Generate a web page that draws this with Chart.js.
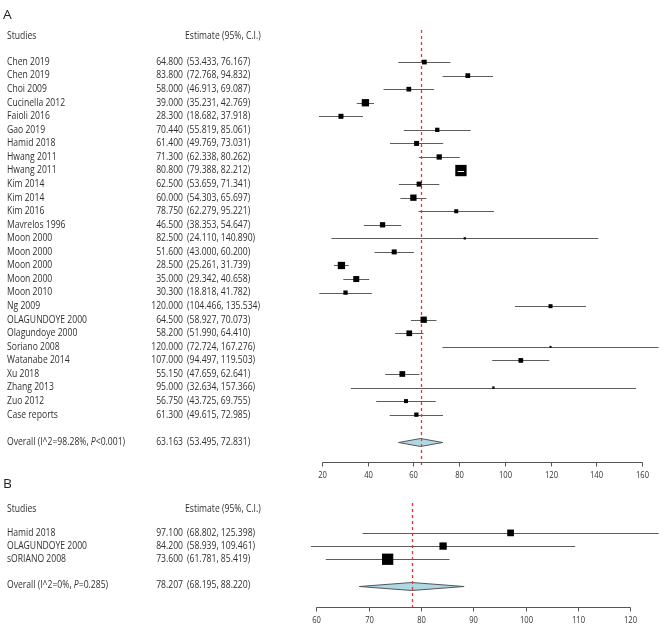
<!DOCTYPE html>
<html><head><meta charset="utf-8">
<script src="https://cdn.jsdelivr.net/npm/chart.js@4"></script>
<style>
html,body{margin:0;padding:0;background:#fff;}
#wrap{position:relative;width:667px;height:630px;overflow:hidden;background:#fff;}
canvas{position:absolute;left:0;}
#cA{top:0;} #cB{top:470px;}
</style></head><body>
<div id="wrap"><canvas id="cA" width="667" height="490"></canvas><canvas id="cB" width="667" height="160"></canvas></div>
<script>
// ---------- Panel A data ----------
const studiesA = ["Chen 2019","Chen 2019","Choi 2009","Cucinella 2012","Faioli 2016","Gao 2019","Hamid 2018","Hwang 2011","Hwang 2011","Kim 2014","Kim 2014","Kim 2016","Mavrelos 1996","Moon 2000","Moon 2000","Moon 2000","Moon 2000","Moon 2010","Ng 2009","OLAGUNDOYE 2000","Olagundoye 2000","Soriano 2008","Watanabe 2014","Xu 2018","Zhang 2013","Zuo 2012","Case reports"];
const estA  = [64.8,83.8,58.0,39.0,28.3,70.44,61.4,71.3,80.8,62.5,60.0,78.75,46.5,82.5,51.6,28.5,35.0,30.3,120.0,64.5,58.2,120.0,107.0,55.15,95.0,56.75,61.3];
const lowA  = [53.433,72.768,46.913,35.231,18.682,55.819,49.769,62.338,79.388,53.659,54.303,62.279,38.353,24.110,43.000,25.261,29.342,18.818,104.466,58.927,51.990,72.724,94.497,47.659,32.634,43.725,49.615];
const highA = [76.167,94.832,69.087,42.769,37.918,85.061,73.031,80.262,82.212,71.341,65.697,95.221,54.647,140.890,60.200,31.739,40.658,41.782,135.534,70.073,64.410,167.276,119.503,62.641,157.366,69.755,72.985];
const weightA = [2.84,2.84,2.84,6.86,3.22,2.38,3.22,3.61,16.43,3.22,5.11,2.06,3.61,0.68,3.22,6.86,4.63,2.38,2.06,5.11,4.18,0.51,2.84,4.18,0.68,2.06,2.38];
const overallA = [63.163,53.495,72.831];
const overallLabelA = ["Overall (I^2=98.28%, ","P","<0.001)"];
const ticksA = [20,40,60,80,100,120,140,160];

// ---------- Panel B data ----------
const studiesB = ["Hamid 2018","OLAGUNDOYE 2000","sORIANO 2008"];
const estB  = [97.1,84.2,73.6];
const lowB  = [68.802,58.939,61.781];
const highB = [125.398,109.461,85.419];
const weightB = [19.9,23.6,56.5];
const overallB = [78.207,68.195,88.220];
const overallLabelB = ["Overall (I^2=0%, ","P","=0.285)"];
const ticksB = [60,70,80,90,100,110,120];

const headerStudies = "Studies";
const headerEstimate = "Estimate (95%, C.I.)";

const FONT = '"Open Sans", "DejaVu Sans", sans-serif';
const TXT = '#303030';
const FS = '10px ';
const SQ = 0.86; // horizontal squeeze of text

function txt(ctx, s, x, y, align, sx) {
  ctx.save();
  ctx.translate(x, y);
  ctx.scale(sx || SQ, 1);
  ctx.textAlign = align;
  ctx.fillText(s, 0, 0);
  ctx.restore();
}

function forestChart(id, P) {
  const plugin = {
    id: 'forest_' + id,
    beforeDatasetsDraw(chart) {
      const {ctx, chartArea: a, scales: {x, y}} = chart;
      ctx.save();
      ctx.beginPath(); ctx.rect(a.left, a.top, a.right - a.left, a.bottom - a.top); ctx.clip();
      ctx.strokeStyle = '#5c5c5c'; ctx.lineWidth = 1;
      P.est.forEach((e, i) => {
        const yy = Math.round(y.getPixelForValue(i)) + 0.5;
        ctx.beginPath();
        ctx.moveTo(x.getPixelForValue(P.low[i]), yy);
        ctx.lineTo(x.getPixelForValue(P.high[i]), yy);
        ctx.stroke();
      });
      // summary diamond
      const yo = Math.round(y.getPixelForValue(P.overallRow)) + 0.5;
      const xl = x.getPixelForValue(P.overall[1]), xc = x.getPixelForValue(P.overall[0]), xh = x.getPixelForValue(P.overall[2]);
      ctx.beginPath();
      ctx.moveTo(xl, yo); ctx.lineTo(xc, yo - 4); ctx.lineTo(xh, yo); ctx.lineTo(xc, yo + 4); ctx.closePath();
      ctx.fillStyle = '#add8e6'; ctx.fill();
      ctx.strokeStyle = '#555'; ctx.stroke();
      ctx.restore();
      // reference dashed line
      ctx.save();
      ctx.strokeStyle = '#ff2a2a'; ctx.lineWidth = 1.3; ctx.setLineDash([3, 3]);
      const xr = Math.round(xc) + 0.5;
      ctx.beginPath();
      ctx.moveTo(xr, Math.round(y.getPixelForValue(P.refTop)));
      ctx.lineTo(xr, a.bottom + 3);
      ctx.stroke();
      ctx.restore();
    },
    afterDatasetsDraw(chart) {
      const {ctx, scales: {x, y}} = chart;
      ctx.save();
      ctx.strokeStyle = '#fff'; ctx.lineWidth = 1;
      P.est.forEach((e, i) => {
        const side = P.boxScale * Math.sqrt(P.weight[i]);
        const x1 = x.getPixelForValue(P.low[i]), x2 = x.getPixelForValue(P.high[i]);
        if (x2 - x1 < side - 2) {
          const yy = Math.round(y.getPixelForValue(i)) + 0.5;
          ctx.beginPath(); ctx.moveTo(x1, yy); ctx.lineTo(x2, yy); ctx.stroke();
        }
      });
      ctx.restore();
    },
    afterDraw(chart) {
      const {ctx, chartArea: a, scales: {x, y}} = chart;
      ctx.save();
      ctx.textBaseline = 'middle';
      // panel letter
      ctx.fillStyle = '#222';
      ctx.font = '12px ' + FONT;
      txt(ctx, P.letter, 3, y.getPixelForValue(P.letterRow), 'left', 1.15);
      ctx.fillStyle = TXT;
      ctx.font = FS + FONT;
      const hy = y.getPixelForValue(P.headerRow);
      txt(ctx, headerStudies, 7, hy, 'left');
      txt(ctx, headerEstimate, 185, hy, 'left');
      const row = (i, label, est, lo, hi) => {
        const yy = y.getPixelForValue(i);
        if (Array.isArray(label)) {
          let cx = 7;
          label.forEach((s, k) => {
            ctx.font = (k === 1 ? 'italic ' : '') + FS + FONT;
            txt(ctx, s, cx, yy, 'left');
            cx += ctx.measureText(s).width * SQ;
          });
          ctx.font = FS + FONT;
        } else {
          txt(ctx, label, 7, yy, 'left');
        }
        txt(ctx, est.toFixed(3), 183, yy, 'right');
        txt(ctx, '(' + lo.toFixed(3) + ', ' + hi.toFixed(3) + ')', 187, yy, 'left');
      };
      P.studies.forEach((s, i) => row(i, s, P.est[i], P.low[i], P.high[i]));
      row(P.overallRow, P.overallLabel, P.overall[0], P.overall[1], P.overall[2]);
      // x axis
      const ay = a.bottom + 0.5;
      ctx.strokeStyle = '#555'; ctx.lineWidth = 1;
      ctx.beginPath();
      ctx.moveTo(Math.round(x.getPixelForValue(P.ticks[0])) + 0.5, ay);
      ctx.lineTo(Math.round(x.getPixelForValue(P.ticks[P.ticks.length - 1])) + 0.5, ay);
      ctx.stroke();
      ctx.font = '9.5px ' + FONT;
      P.ticks.forEach(t => {
        const tx = Math.round(x.getPixelForValue(t)) + 0.5;
        ctx.beginPath(); ctx.moveTo(tx, ay); ctx.lineTo(tx, ay + 4); ctx.stroke();
        txt(ctx, String(t), tx, ay + 12.5, 'center', 0.8);
      });
      ctx.restore();
    }
  };
  return new Chart(document.getElementById(id), {
    type: 'scatter',
    data: {
      datasets: [{
        data: P.est.map((e, i) => ({x: e, y: i})),
        pointStyle: 'rect',
        pointRadius: P.weight.map(w => P.boxScale * Math.sqrt(w) / Math.SQRT2),
        pointBackgroundColor: '#000',
        pointBorderWidth: 0,
        pointHoverRadius: P.weight.map(w => P.boxScale * Math.sqrt(w) / Math.SQRT2),
        clip: false
      }]
    },
    options: {
      responsive: false, animation: false, events: [],
      layout: {padding: P.padding},
      plugins: {legend: {display: false}, tooltip: {enabled: false}},
      scales: {
        x: {type: 'linear', display: false, min: P.xMin, max: P.xMax},
        y: {type: 'linear', display: false, reverse: true, min: P.yMin, max: P.yMax}
      }
    },
    plugins: [plugin]
  });
}

forestChart('cA', {
  letter: 'A', studies: studiesA, est: estA, low: lowA, high: highA, weight: weightA,
  overall: overallA, overallLabel: overallLabelA, ticks: ticksA,
  overallRow: 28, headerRow: -1.88, letterRow: -3.4, refTop: -2.34,
  boxScale: 2.79,
  padding: {left: 300, right: 3, top: 0, bottom: 28},
  xMin: 10.38, xMax: 167.47, yMin: -3.986, yMax: 29.49
});
forestChart('cB', {
  letter: 'B', studies: studiesB, est: estB, low: lowB, high: highB, weight: weightB,
  overall: overallB, overallLabel: overallLabelB, ticks: ticksB,
  overallRow: 4, headerRow: -1.79, letterRow: -3.66, refTop: -2.26,
  boxScale: 1.503,
  padding: {left: 300, right: 3, top: 0, bottom: 23},
  xMin: 56.85, xMax: 125.47, yMin: -4.164, yMax: 5.622
});
</script>
</body></html>
